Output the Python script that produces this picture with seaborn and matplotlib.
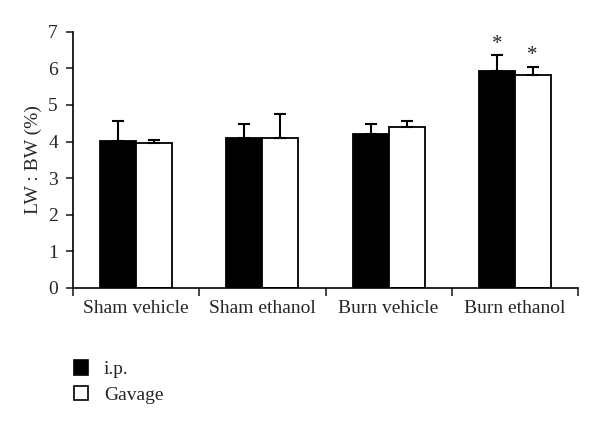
import numpy as np
import pandas as pd
import matplotlib
matplotlib.use('Agg')
import matplotlib.pyplot as plt
from matplotlib.patches import Patch
import seaborn as sns

groups = ['Sham vehicle', 'Sham ethanol', 'Burn vehicle', 'Burn ethanol']
routes = ['i.p.', 'Gavage']
ip_mean = [4.01, 4.10, 4.20, 5.94]
ip_err = [0.56, 0.39, 0.28, 0.42]
gav_mean = [3.96, 4.10, 4.39, 5.81]
gav_err = [0.09, 0.66, 0.17, 0.23]
signif = [[False, False, False, True], [False, False, False, True]]

df = pd.DataFrame({
    'group': groups * 2,
    'route': [routes[0]] * 4 + [routes[1]] * 4,
    'value': ip_mean + gav_mean,
})
errs = [ip_err, gav_err]

sns.set_style('white')
plt.rcParams['font.family'] = ['Liberation Serif', 'DejaVu Serif']

fig = plt.figure(figsize=(6, 4.24), dpi=100)
ax = fig.add_axes([0.122, 0.321, 0.841, 0.604])

sns.barplot(data=df, x='group', y='value', hue='route', order=groups,
            hue_order=routes, palette=['black', 'white'], width=0.57,
            edgecolor='black', linewidth=1.3, errorbar=None, ax=ax,
            legend=False)

bar_sets = list(ax.containers)
for k, cont in enumerate(bar_sets):
    for j, bar in enumerate(cont.patches):
        xc = bar.get_x() + bar.get_width() / 2
        h = bar.get_height()
        ax.errorbar(xc, h, yerr=[[0], [errs[k][j]]], fmt='none',
                    ecolor='black', elinewidth=1.5, capsize=4, capthick=1.5)
        if signif[k][j]:
            ax.text(xc, h + errs[k][j] + 0.04, '*', ha='center', va='bottom',
                    fontsize=15)

ax.set_ylim(0, 7)
ax.set_yticks(range(8))
ax.set_xlim(-0.5, 3.5)
ax.set_xticks(np.arange(-0.5, 4, 1))
ax.set_xticklabels([])
ax.set_xticks(range(4), minor=True)
ax.set_xticklabels(groups, minor=True)
ax.tick_params(axis='x', which='major', direction='out', length=6, width=1.2,
               bottom=True)
ax.tick_params(axis='x', which='minor', length=0, labelsize=14, pad=9)
ax.tick_params(axis='y', direction='out', length=5, width=1.2, left=True,
               labelsize=14, pad=6)
ax.set_xlabel('')
ax.set_ylabel('LW : BW (%)', fontsize=14, labelpad=4)
for s in ['top', 'right']:
    ax.spines[s].set_visible(False)
for s in ['left', 'bottom']:
    ax.spines[s].set_linewidth(1.2)
    ax.spines[s].set_color('black')

handles = [Patch(facecolor='black', edgecolor='black', linewidth=1.2),
           Patch(facecolor='white', edgecolor='black', linewidth=1.2)]
fig.legend(handles, routes, loc='upper left', bbox_to_anchor=(0.123, 0.15),
           frameon=False, fontsize=14, handlelength=0.75, handleheight=0.75,
           handletextpad=0.8, labelspacing=0.4, borderpad=0,
           borderaxespad=0)

fig.savefig('out.png', dpi=100)
